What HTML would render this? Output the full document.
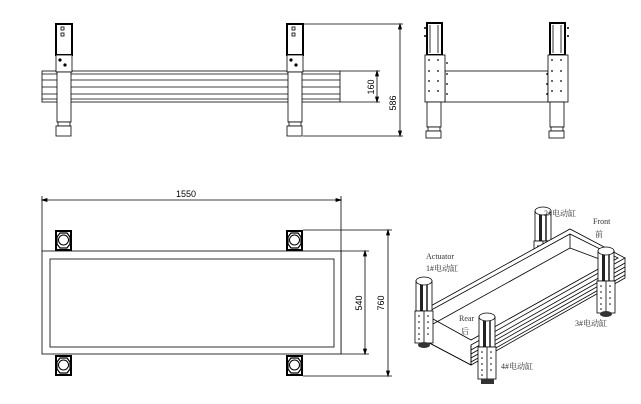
<!DOCTYPE html>
<html><head><meta charset="utf-8"><style>
html,body{margin:0;padding:0;background:#fff;}
svg{display:block;}
text{font-family:"Liberation Sans","Noto Sans CJK SC",sans-serif;font-size:9px;fill:#000;}
.s{font-family:"Liberation Serif","Noto Serif CJK SC",serif;font-size:8px;fill:#333;}
</style></head><body>
<svg width="641" height="404" viewBox="0 0 641 404" xmlns="http://www.w3.org/2000/svg" fill="none" stroke="#000" stroke-width="0.8">
<defs>
<g id="legF">
  <rect x="0" y="0" width="16" height="31" fill="#fff" stroke="#000" stroke-width="2"/>
  <rect x="5" y="3" width="3" height="3" stroke-width="0.8"/>
  <rect x="5" y="9" width="3" height="3" stroke-width="0.8"/>
  <rect x="0" y="31" width="16" height="17" fill="#fff"/>
  <circle cx="4" cy="36" r="1.2" fill="#000"/><circle cx="9" cy="41" r="1.2" fill="#000"/>
  <rect x="1" y="48" width="14" height="50" fill="#fff"/>
  <rect x="2" y="98" width="12" height="4" fill="#fff"/>
  <rect x="0" y="102" width="15" height="10" fill="#fff"/>
</g>
<g id="legS">
  <rect x="2" y="0" width="15" height="32" fill="#fff" stroke-width="2"/>
  <line x1="5" y1="2" x2="5" y2="30"/><line x1="13" y1="2" x2="13" y2="30"/>
  <rect x="0" y="32" width="20" height="47" fill="#fff"/>
  <g fill="#000" stroke="none">
   <circle cx="4" cy="37" r="0.9"/><circle cx="13" cy="37" r="0.9"/>
   <circle cx="4" cy="48" r="0.9"/><circle cx="13" cy="48" r="0.9"/>
   <circle cx="4" cy="58" r="0.9"/><circle cx="13" cy="58" r="0.9"/>
   <circle cx="4" cy="68" r="0.9"/><circle cx="13" cy="68" r="0.9"/>
  </g>
  <rect x="2" y="79" width="14" height="25" fill="#fff"/>
  <rect x="3" y="104" width="12" height="4" fill="#fff"/>
  <rect x="1" y="108" width="15" height="7" fill="#fff"/>
</g>
<g id="pad">
  <rect x="1" y="1" width="15" height="19" fill="#fff" stroke="#000" stroke-width="2"/>
  <polygon points="5,3 12,3 15,7 15,14 12,18 5,18 2,14 2,7" fill="#fff" stroke="#000" stroke-width="1.2"/>
  <circle cx="8.5" cy="10" r="5" fill="#fff" stroke="#000" stroke-width="1"/>
</g>
<g id="iso">
  <rect x="0" y="5" width="16" height="30" fill="#fff"/>
  <rect x="4" y="5" width="3" height="30" fill="#222" stroke="none"/>
  <rect x="10" y="5" width="2" height="30" fill="#555" stroke="none"/>
  <ellipse cx="8" cy="5" rx="8" ry="4" fill="#fff"/>
  <rect x="-1" y="35" width="18" height="32" fill="#fff"/>
  <line x1="8" y1="35" x2="8" y2="67"/>
  <g fill="#000" stroke="none">
   <circle cx="3" cy="40" r="0.8"/><circle cx="3" cy="46" r="0.8"/><circle cx="3" cy="52" r="0.8"/><circle cx="3" cy="58" r="0.8"/><circle cx="3" cy="63" r="0.8"/>
   <circle cx="12" cy="40" r="0.8"/><circle cx="12" cy="46" r="0.8"/><circle cx="12" cy="52" r="0.8"/><circle cx="12" cy="58" r="0.8"/>
  </g>
</g>
</defs>

<!-- FRONT VIEW -->
<rect x="42" y="71" width="298" height="31" fill="#fff"/>
<line x1="42" y1="74" x2="340" y2="74"/><line x1="42" y1="80" x2="340" y2="80"/>
<line x1="42" y1="87" x2="340" y2="87"/><line x1="42" y1="94" x2="340" y2="94"/>
<line x1="42" y1="99" x2="340" y2="99"/>
<use href="#legF" x="56" y="24"/>
<use href="#legF" x="287" y="24"/>
<line x1="303" y1="24" x2="403" y2="24"/><line x1="303" y1="136" x2="403" y2="136"/>
<line x1="400" y1="24" x2="400" y2="136"/>
<path d="M400 24 l-1.5 5 h3z M400 136 l-1.5 -5 h3z" fill="#000"/>
<line x1="340" y1="71" x2="380" y2="71"/><line x1="340" y1="102" x2="380" y2="102"/>
<line x1="377" y1="71" x2="377" y2="102"/>
<path d="M377 71 l-1.5 5 h3z M377 102 l-1.5 -5 h3z" fill="#000"/>
<text transform="translate(374,87) rotate(-90)" text-anchor="middle" stroke="none">160</text>
<text transform="translate(396,103) rotate(-90)" text-anchor="middle" stroke="none">586</text>

<!-- SIDE VIEW -->
<rect x="445" y="71" width="103" height="31" fill="#fff"/>
<use href="#legS" x="425" y="23"/>
<use href="#legS" x="548" y="23"/>
<g fill="#000" stroke="none">
 <circle cx="447" cy="63" r="0.9"/><circle cx="447" cy="74" r="0.9"/><circle cx="447" cy="84" r="0.9"/><circle cx="447" cy="94" r="0.9"/>
 <circle cx="547" cy="74" r="0.9"/><circle cx="547" cy="84" r="0.9"/><circle cx="547" cy="94" r="0.9"/>
 <circle cx="568" cy="28" r="1"/><circle cx="568" cy="36" r="1"/><circle cx="425" cy="28" r="1"/><circle cx="425" cy="36" r="1"/>
</g>

<!-- TOP VIEW -->
<line x1="42" y1="196" x2="42" y2="251"/><line x1="341" y1="196" x2="341" y2="354"/>
<line x1="42" y1="200" x2="341" y2="200"/>
<path d="M42 200 l5 -1.5 v3z M341 200 l-5 -1.5 v3z" fill="#000"/>
<text x="186" y="197" text-anchor="middle" stroke="none">1550</text>
<rect x="42" y="251" width="299" height="103" fill="#fff"/>
<rect x="50" y="259" width="284" height="88"/>
<line x1="341" y1="251" x2="369" y2="251"/><line x1="341" y1="354" x2="369" y2="354"/>
<line x1="365" y1="251" x2="365" y2="354"/>
<path d="M365 251 l-1.5 5 h3z M365 354 l-1.5 -5 h3z" fill="#000"/>
<line x1="303" y1="230" x2="392" y2="230"/><line x1="303" y1="376" x2="392" y2="376"/>
<line x1="388" y1="230" x2="388" y2="376"/>
<path d="M388 230 l-1.5 5 h3z M388 376 l-1.5 -5 h3z" fill="#000"/>
<text transform="translate(362,303) rotate(-90)" text-anchor="middle" stroke="none">540</text>
<text transform="translate(384,303) rotate(-90)" text-anchor="middle" stroke="none">760</text>
<use href="#pad" x="55" y="230"/><use href="#pad" x="286" y="230"/>
<use href="#pad" x="55" y="355"/><use href="#pad" x="286" y="355"/>

<!-- ISO VIEW -->
<use href="#iso" x="535" y="206"/>
<ellipse cx="542" cy="275" rx="6" ry="3" fill="#333" stroke="none"/>
<polygon points="418,313 570,229 625,258 471,345 471,365 418,337" fill="#fff"/>
<polyline points="418,313 418,337 471,365 625,278 625,258"/>
<line x1="471" y1="345" x2="471" y2="365"/>
<polygon points="424,314 570,234 618,258 471,340" fill="#fff"/>
<line x1="570" y1="234" x2="570" y2="248"/>
<line x1="570" y1="248" x2="433" y2="324"/>
<line x1="570" y1="248" x2="610" y2="263"/>
<line x1="471" y1="350" x2="625" y2="263"/><line x1="471" y1="354" x2="625" y2="267"/>
<line x1="471" y1="358" x2="625" y2="271"/><line x1="471" y1="362" x2="625" y2="275"/>
<use href="#iso" x="416" y="276"/>
<ellipse cx="424" cy="345" rx="6" ry="3" fill="#333" stroke="none"/>
<use href="#iso" x="598" y="246"/>
<ellipse cx="606" cy="314" rx="6" ry="3" fill="#333" stroke="none"/>
<use href="#iso" x="479" y="312"/>
<rect x="481" y="379" width="13" height="5" fill="#333" stroke="none"/>

<text class="s" x="544" y="216" stroke="none">2#电动缸</text>
<text class="s" x="593" y="224" stroke="none">Front</text>
<text class="s" x="595" y="237" stroke="none">前</text>
<text class="s" x="426" y="259" stroke="none">Actuator</text>
<text class="s" x="426" y="271" stroke="none">1#电动缸</text>
<text class="s" x="459" y="321" stroke="none">Rear</text>
<text class="s" x="461" y="334" stroke="none">后</text>
<text class="s" x="575" y="326" stroke="none">3#电动缸</text>
<text class="s" x="501" y="369" stroke="none">4#电动缸</text>
</svg>
</body></html>
